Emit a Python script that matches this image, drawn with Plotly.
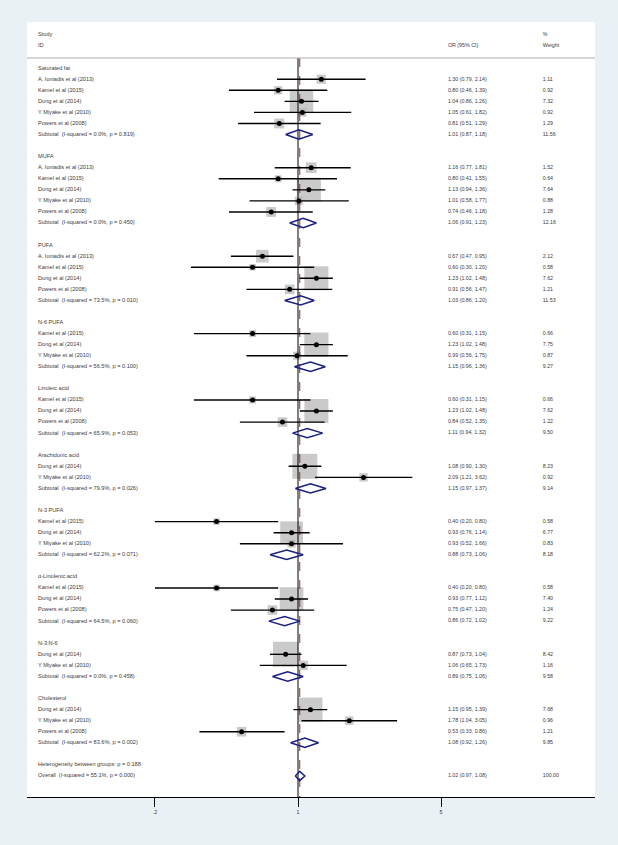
import plotly.graph_objects as go
import math

# ---------------- data ----------------
group_names = ["Saturated fat", "MUFA", "PUFA", "N-6 PUFA", "Linoleic acid",
               "Arachidonic acid", "N-3 PUFA", "α-Linolenic acid", "N-3:N-6", "Cholesterol"]

study_group = [0, 0, 0, 0, 0,
               1, 1, 1, 1, 1,
               2, 2, 2, 2,
               3, 3, 3,
               4, 4, 4,
               5, 5,
               6, 6, 6,
               7, 7, 7,
               8, 8,
               9, 9, 9]
study_names = ["A. Ioniadis et al (2013)", "Kamel et al (2015)", "Dong et al (2014)", "Y Miyake et al (2010)", "Powers et al (2008)",
               "A. Ioniadis et al (2013)", "Kamel et al (2015)", "Dong et al (2014)", "Y Miyake et al (2010)", "Powers et al (2008)",
               "A. Ioniadis et al (2013)", "Kamel et al (2015)", "Dong et al (2014)", "Powers et al (2008)",
               "Kamel et al (2015)", "Dong et al (2014)", "Y Miyake et al (2010)",
               "Kamel et al (2015)", "Dong et al (2014)", "Powers et al (2008)",
               "Dong et al (2014)", "Y Miyake et al (2010)",
               "Kamel et al (2015)", "Dong et al (2014)", "Y Miyake et al (2010)",
               "Kamel et al (2015)", "Dong et al (2014)", "Powers et al (2008)",
               "Dong et al (2014)", "Y Miyake et al (2010)",
               "Dong et al (2014)", "Y Miyake et al (2010)", "Powers et al (2008)"]
study_or = [1.30, 0.80, 1.04, 1.05, 0.81,
            1.16, 0.80, 1.13, 1.01, 0.74,
            0.67, 0.60, 1.23, 0.91,
            0.60, 1.23, 0.99,
            0.60, 1.23, 0.84,
            1.08, 2.09,
            0.40, 0.93, 0.93,
            0.40, 0.93, 0.75,
            0.87, 1.06,
            1.15, 1.78, 0.53]
study_lo = [0.79, 0.46, 0.86, 0.61, 0.51,
            0.77, 0.41, 0.94, 0.58, 0.46,
            0.47, 0.30, 1.02, 0.56,
            0.31, 1.02, 0.56,
            0.31, 1.02, 0.52,
            0.90, 1.21,
            0.20, 0.76, 0.52,
            0.20, 0.77, 0.47,
            0.73, 0.65,
            0.95, 1.04, 0.33]
study_hi = [2.14, 1.39, 1.26, 1.82, 1.29,
            1.81, 1.55, 1.36, 1.77, 1.18,
            0.95, 1.20, 1.48, 1.47,
            1.15, 1.48, 1.75,
            1.15, 1.48, 1.35,
            1.30, 3.62,
            0.80, 1.14, 1.66,
            0.80, 1.12, 1.20,
            1.04, 1.73,
            1.39, 3.05, 0.86]
study_weight = [1.11, 0.92, 7.32, 0.92, 1.29,
                1.52, 0.64, 7.64, 0.88, 1.28,
                2.12, 0.58, 7.62, 1.21,
                0.66, 7.75, 0.87,
                0.66, 7.62, 1.22,
                8.23, 0.92,
                0.58, 6.77, 0.83,
                0.58, 7.40, 1.24,
                8.42, 1.16,
                7.68, 0.96, 1.21]

subtotal_isq = ["0.0%", "0.0%", "73.5%", "56.5%", "65.9%", "79.9%", "62.2%", "64.5%", "0.0%", "83.6%"]
subtotal_p = ["0.819", "0.450", "0.010", "0.100", "0.053", "0.026", "0.071", "0.060", "0.458", "0.002"]
subtotal_or = [1.01, 1.06, 1.03, 1.15, 1.11, 1.15, 0.88, 0.86, 0.89, 1.08]
subtotal_lo = [0.87, 0.91, 0.86, 0.96, 0.94, 0.97, 0.73, 0.72, 0.75, 0.92]
subtotal_hi = [1.18, 1.23, 1.20, 1.36, 1.32, 1.37, 1.06, 1.02, 1.06, 1.26]
subtotal_weight = [11.56, 12.16, 11.53, 9.27, 9.50, 9.14, 8.18, 9.22, 9.58, 9.85]

het_between_p = "0.188"
overall_isq = "55.1%"
overall_p = "0.000"
overall_or = 1.02
overall_lo = 0.97
overall_hi = 1.08
overall_weight = 100.00

tick_vals = [0.2, 1, 5]
tick_text = [".2", "1", "5"]

# ---------------- layout of rows ----------------
label_rows, label_txt = [], []
or_rows, or_txt = [], []
w_rows, w_txt = [], []

st_rows = [None] * len(study_names)
sub_rows = []
row = 3
for g, gname in enumerate(group_names):
    label_rows.append(row); label_txt.append(gname)
    row += 1
    for i, sg in enumerate(study_group):
        if sg == g:
            st_rows[i] = row
            label_rows.append(row); label_txt.append(study_names[i])
            or_rows.append(row); or_txt.append(f"{study_or[i]:.2f} ({study_lo[i]:.2f}, {study_hi[i]:.2f})")
            w_rows.append(row); w_txt.append(f"{study_weight[i]:.2f}")
            row += 1
    sub_rows.append(row)
    label_rows.append(row); label_txt.append(f"Subtotal  (I-squared = {subtotal_isq[g]}, p = {subtotal_p[g]})")
    or_rows.append(row); or_txt.append(f"{subtotal_or[g]:.2f} ({subtotal_lo[g]:.2f}, {subtotal_hi[g]:.2f})")
    w_rows.append(row); w_txt.append(f"{subtotal_weight[g]:.2f}")
    row += 2
label_rows.append(row); label_txt.append(f"Heterogeneity between groups: p = {het_between_p}")
row += 1
overall_row = row
label_rows.append(row); label_txt.append(f"Overall  (I-squared = {overall_isq}, p = {overall_p})")
or_rows.append(row); or_txt.append(f"{overall_or:.2f} ({overall_lo:.2f}, {overall_hi:.2f})")
w_rows.append(row); w_txt.append(f"{overall_weight:.2f}")

Y_TOP = -1.175
Y_BOT = 68.9
HDR_Y = 2.08

FONT = "Liberation Sans, Arial, sans-serif"
TXT_L = dict(family=FONT, size=5.6, color="#3c3c3c")
TXT_R = dict(family=FONT, size=5.3, color="#3c3c3c")

fig = go.Figure()

# squares
fig.add_trace(go.Scatter(
    x=study_or, y=st_rows, mode="markers",
    marker=dict(symbol="square", size=[8.7 * math.sqrt(w) for w in study_weight],
                color="#b4b4b4", line=dict(width=0)),
    hoverinfo="skip", showlegend=False))

# null line and overall dashed line
fig.add_trace(go.Scatter(x=[1, 1], y=[HDR_Y, Y_BOT], mode="lines",
                         line=dict(color="black", width=1), hoverinfo="skip", showlegend=False))
fig.add_trace(go.Scatter(x=[overall_or, overall_or], y=[HDR_Y, Y_BOT], mode="lines",
                         line=dict(color="#9b2a2a", width=1, dash="dash"), hoverinfo="skip", showlegend=False))

# CI lines
cx, cy = [], []
for i in range(len(study_names)):
    cx += [study_lo[i], study_hi[i], None]
    cy += [st_rows[i], st_rows[i], None]
fig.add_trace(go.Scatter(x=cx, y=cy, mode="lines", line=dict(color="black", width=1.4),
                         hoverinfo="skip", showlegend=False))

# point estimates
fig.add_trace(go.Scatter(x=study_or, y=st_rows, mode="markers",
                         marker=dict(symbol="circle", size=5, color="black"),
                         hoverinfo="skip", showlegend=False))

# diamonds
H = 0.42
dx, dy = [], []
for g in range(len(group_names)):
    r = sub_rows[g]
    dx += [subtotal_lo[g], subtotal_or[g], subtotal_hi[g], subtotal_or[g], subtotal_lo[g], None]
    dy += [r, r - H, r, r + H, r, None]
dx += [overall_lo, overall_or, overall_hi, overall_or, overall_lo]
dy += [overall_row, overall_row - H, overall_row, overall_row + H, overall_row]
fig.add_trace(go.Scatter(x=dx, y=dy, mode="lines", line=dict(color="#1a2080", width=1.5),
                         hoverinfo="skip", showlegend=False))

# header separator
fig.add_trace(go.Scatter(x=[0, 1], y=[HDR_Y, HDR_Y], xaxis="x2", mode="lines",
                         line=dict(color="#b0b0b0", width=1), hoverinfo="skip", showlegend=False))

# text columns
XL, XO, XW = 0.0194, 0.741, 0.908
fig.add_trace(go.Scatter(x=[XL] * (len(label_rows) + 2), y=[0, 1] + label_rows, xaxis="x2",
                         mode="text", text=["Study", "ID"] + label_txt, textposition="middle right",
                         textfont=TXT_L, hoverinfo="skip", showlegend=False))
fig.add_trace(go.Scatter(x=[XO] * (len(or_rows) + 1), y=[1] + or_rows, xaxis="x2",
                         mode="text", text=["OR (95% CI)"] + or_txt, textposition="middle right",
                         textfont=TXT_R, hoverinfo="skip", showlegend=False))
fig.add_trace(go.Scatter(x=[XW] * (len(w_rows) + 2), y=[0, 1] + w_rows, xaxis="x2",
                         mode="text", text=["%", "Weight"] + w_txt, textposition="middle right",
                         textfont=TXT_R, hoverinfo="skip", showlegend=False))

fig.update_layout(
    width=618, height=845,
    margin=dict(l=27, r=23, t=22, b=48),
    paper_bgcolor="#e9f1f4", plot_bgcolor="white",
    xaxis=dict(type="log", range=[-1.324, 1.451], showgrid=False, zeroline=False,
               showline=True, linecolor="black", linewidth=1.2,
               ticks="outside", ticklen=9, tickcolor="black", tickwidth=1,
               tickvals=tick_vals, ticktext=tick_text,
               tickfont=dict(family=FONT, size=5.3, color="#3c3c3c")),
    xaxis2=dict(overlaying="x", range=[0, 1], visible=False, showgrid=False, zeroline=False),
    yaxis=dict(range=[Y_BOT, Y_TOP], visible=False, showgrid=False, zeroline=False),
    showlegend=False,
)

fig.write_html("out.html",
               config={"displayModeBar": False, "staticPlot": True},
               post_script="document.body.style.margin='0';document.body.style.padding='0';"
                           "document.body.style.overflow='hidden';")
